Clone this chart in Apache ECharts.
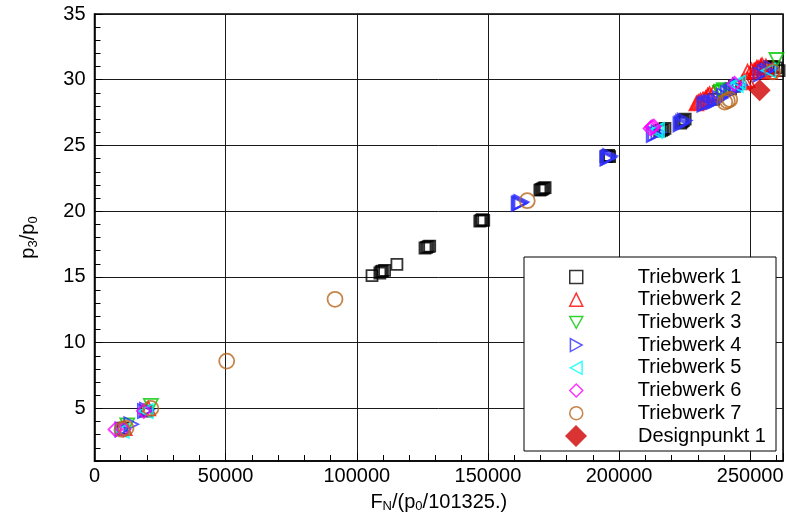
<!DOCTYPE html>
<html><head><meta charset="utf-8">
<script src="https://cdn.jsdelivr.net/npm/echarts@6/dist/echarts.min.js"></script>
<style>html,body{margin:0;padding:0;background:#fff}#c{width:787px;height:525px}</style>
</head><body><div id="c"></div>
<script>
const seriesNames = ['Triebwerk 1','Triebwerk 2','Triebwerk 3','Triebwerk 4','Triebwerk 5','Triebwerk 6','Triebwerk 7','Designpunkt 1'];
const t1 = [[10800,3.5],[20000,4.8],[105800,15.1],[108800,15.3],[109300,15.4],[109800,15.45],[110600,15.5],[115300,15.95],[126000,17.2],[126600,17.25],[127200,17.3],[127800,17.35],[146900,19.25],[147400,19.3],[147800,19.35],[148400,19.3],[169800,21.6],[170300,21.65],[170800,21.7],[171300,21.75],[171800,21.8],[195000,24.15],[195400,24.2],[196000,24.25],[196400,24.15],[215500,26.1],[216200,26.15],[216800,26.2],[217500,26.3],[223500,26.7],[224000,26.8],[224500,26.9],[225200,27.0],[236000,28.5],[242500,29.3],[244000,29.5],[256000,30.9],[258000,31.0],[259000,31.0],[260000,30.9],[261000,30.7]];
const t2 = [[11500,3.5],[20500,5.0],[229500,28.2],[230200,28.3],[231000,28.4],[232000,28.5],[233000,28.6],[233800,28.8],[234500,28.9],[236000,29.0],[247000,29.8],[248000,29.9],[249000,30.0],[249000,30.6],[250500,30.7],[251500,30.7],[252000,30.7],[252500,30.9],[253000,30.9],[254000,31.0],[254500,31.1],[255000,30.7],[256000,31.0],[257500,30.6],[258500,30.8]];
const t3 = [[12500,3.7],[21500,5.2],[238500,29.0],[239000,29.1],[240000,29.2],[260000,31.5]];
const t4 = [[10600,3.4],[14000,3.8],[19200,4.8],[20000,4.9],[161700,20.55],[162000,20.6],[162400,20.65],[162800,20.7],[195500,24.0],[195800,24.05],[196200,24.1],[196600,24.2],[213200,25.8],[213800,25.9],[215000,26.0],[223400,26.6],[223800,26.7],[224400,26.8],[225000,26.9],[232500,28.1],[233000,28.2],[234000,28.25],[235000,28.3],[236000,28.3],[237000,28.4],[238500,28.6],[240000,28.8],[241500,29.0],[242500,29.1],[243500,29.2],[245000,29.4],[246000,29.6],[254000,30.4],[255500,30.6],[256500,30.7],[258000,30.9]];
const t5 = [[10400,3.3],[19500,4.8],[213800,26.1],[214500,26.2],[244500,29.6],[245500,29.8],[257000,30.7]];
const t6 = [[8000,3.4],[11000,3.4],[18800,4.8],[212000,26.3],[212600,26.4],[213200,26.45],[244000,29.7]];
const t7 = [[10500,3.4],[12000,3.5],[21500,5.0],[50400,8.6],[91700,13.3],[165000,20.8],[240300,28.3],[241300,28.4],[242200,28.5],[258500,30.6]];
const design = [[253600,29.2]];
const xTickLabels = [0,50000,100000,150000,200000,250000];
const yTickLabels = [5,10,15,20,25,30,35];

const FONT = "'Liberation Sans', Arial, sans-serif";
const chart = echarts.init(document.getElementById('c'), null, {renderer:'canvas'});
function hollow(name, data, symbol, rot, color, size){
  return {name, type:'scatter', data, symbol, symbolRotate: rot, symbolSize: size,
    itemStyle:{color:'rgba(255,255,255,0)', borderColor: color, borderWidth:1.8}, z:3};
}
const series = [
  hollow(seriesNames[0], t1, 'rect', 0, '#000000', 11),
  hollow(seriesNames[1], t2, 'triangle', 0, '#ff0000', 14),
  hollow(seriesNames[2], t3, 'triangle', 180, '#00c800', 14),
  hollow(seriesNames[3], t4, 'triangle', -90, '#3030ff', 14),
  hollow(seriesNames[4], t5, 'triangle', 90, '#00ffff', 14),
  hollow(seriesNames[5], t6, 'diamond', 0, '#ff00ff', 14),
  hollow(seriesNames[6], t7, 'circle', 0, '#b8651b', 15),
  {name: seriesNames[7], type:'scatter', data: design, symbol:'diamond', symbolSize:22,
   itemStyle:{color:'#d00000', borderWidth:0}, z:4}
];
const icons = ['rect','triangle','path://M0,0 L10,0 L5,9 Z','path://M0,0 L9,5 L0,10 Z','path://M9,0 L0,5 L9,10 Z','diamond','circle'];
const sub = {fontSize:13, fontFamily:FONT, color:'#000', padding:[9,0,0,0]};
const main = {fontSize:20, fontFamily:FONT, color:'#000'};
chart.setOption({
  animation:false,
  backgroundColor:'#fff',
  grid:{left:94.5, top:14, right:4, bottom:64, show:true, borderColor:'#000', borderWidth:1.5, backgroundColor:'transparent'},
  graphic:[{type:'rect', shape:{x:524, y:257, width:252, height:194}, style:{fill:'#fff', stroke:'#000', lineWidth:1}, z:3}],
  legend:[
    {data: seriesNames.slice(0,7).map((n,i)=>({name:n, icon:icons[i]})), orient:'vertical', left:569, top:267, padding:0, itemWidth:13, itemHeight:13, itemGap:2.7,
     itemStyle:{borderWidth:1.5}, z:5,
     formatter: n => '{a|' + n + '}',
     textStyle:{rich:{a:{fontSize:20, fontFamily:FONT, color:'#000', padding:[0,0,0,50], lineHeight:20}}}},
    {data: [seriesNames[7]], orient:'vertical', left:565, top:425, padding:0, itemWidth:22, itemHeight:22, z:5,
     formatter: n => '{a|' + n + '}',
     textStyle:{rich:{a:{fontSize:20, fontFamily:FONT, color:'#000', padding:[0,0,0,46], lineHeight:20}}}}
  ],
  xAxis:{type:'value', min:0, max:262500, interval:50000,
    axisLine:{show:true, lineStyle:{color:'#000', width:1.5}},
    axisTick:{show:true, inside:true, length:8, lineStyle:{color:'#000', width:1}},
    minorTick:{show:true, splitNumber:5, length:6, lineStyle:{color:'#000', width:1}},
    splitLine:{show:true, lineStyle:{color:'#1a1a1a', width:1}},
    axisLabel:{fontSize:20, fontFamily:FONT, color:'#000', margin:5, showMaxLabel:false,
      formatter: v => xTickLabels.includes(v) ? String(v) : ''},
    name:'{m|F}{s|N}{m|/(p}{s|0}{m|/101325.)}', nameLocation:'middle', nameGap:30,
    nameTextStyle:{rich:{m:main, s:sub}}
  },
  yAxis:[
    {type:'value', min:1, max:35,
     axisLine:{show:true, lineStyle:{color:'#000', width:1.5}},
     axisTick:{show:true, inside:true, length:8, customValues: yTickLabels, lineStyle:{color:'#000'}},
     splitLine:{show:true, lineStyle:{color:'#1a1a1a', width:1}},
     axisLabel:{fontSize:20, fontFamily:FONT, color:'#000', margin:9, customValues: yTickLabels},
     name:'{m|p}{s|3}{m|/p}{s|0}', nameLocation:'middle', nameGap:55, nameRotate:90,
     nameTextStyle:{rich:{m:main, s:sub}}
    },
    {type:'value', min:1, max:35, interval:1, position:'left',
     axisLine:{show:false}, axisLabel:{show:false}, splitLine:{show:false},
     axisTick:{show:true, inside:true, length:6, lineStyle:{color:'#000'}}}
  ],
  series
});
</script></body></html>
